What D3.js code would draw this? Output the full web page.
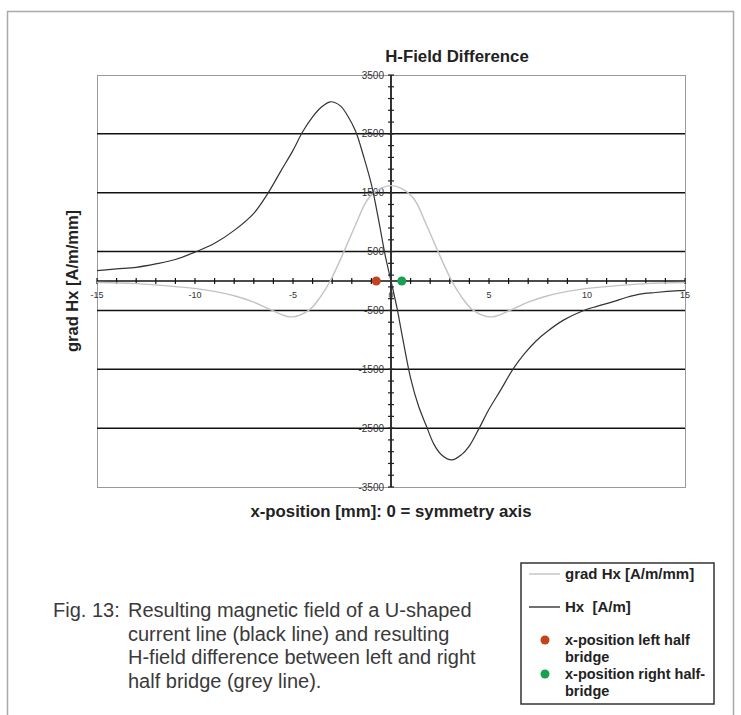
<!DOCTYPE html>
<html>
<head>
<meta charset="utf-8">
<script src="https://cdn.jsdelivr.net/npm/d3@7"></script>
<style>
  body { margin: 0; background: #fff; }
  svg { display: block; font-family: "Liberation Sans", Arial, sans-serif; }
</style>
</head>
<body>
<svg id="chart" width="741" height="715"></svg>
<script>
// Tick labels and grid positions as printed on the chart
const xTickLabels = [-15, -10, -5, 0, 5, 10, 15];
const yTickLabels = [3500, 2500, 1500, 500, -500, -1500, -2500, -3500];
const gridValues = [2500, 1500, 500, -500, -1500, -2500];

// Hx [A/m] (black line)
const hxX = [-15, -14, -13, -12, -11, -10, -9, -8, -7, -6.3, -5.6, -5, -4.5, -4, -3.6, -3.1, -2.6, -2.2, -1.8, -1.4, -1, -0.6, -0.3, 0,
  0.3, 0.6, 1, 1.4, 1.8, 2.2, 2.6, 3.1, 3.6, 4, 4.5, 5, 5.6, 6.2, 6.8, 7.4, 8, 8.8, 9.8, 10.5, 11.3, 12, 12.7, 13.5, 14.7, 15];
const hxValues = [175, 205, 232, 290, 365, 490, 640, 860, 1150, 1480, 1880, 2220, 2540, 2790, 2940, 3045, 2980, 2800, 2540, 2120, 1640, 980, 440, 0,
  -450, -980, -1650, -2120, -2460, -2780, -2960, -3040, -2950, -2800, -2500, -2180, -1850, -1510, -1240, -1020, -850, -665, -505, -430, -355, -280, -222, -195, -165, -160];

// grad Hx [A/m/mm] (grey line)
const gradX = [-15, -13, -11, -9.5, -8, -7, -6, -5.1, -4.2, -3.6, -3.1, -2.4, -1.8, -1.2, -0.6, 0,
  0.6, 1.2, 1.8, 2.4, 3.1, 3.6, 4.2, 5.1, 6, 7, 8, 9.5, 11, 13, 15];
const gradValues = [-25, -45, -95, -150, -250, -360, -510, -610, -500, -270, 0, 500, 960, 1380, 1560, 1620,
  1560, 1380, 960, 500, 0, -270, -500, -610, -510, -360, -250, -150, -95, -45, -25];

// half bridge positions
const markerNames = [['x-position left half', 'bridge'], ['x-position right half-', 'bridge']];
const markerX = [-0.75, 0.55];
const markerColors = ['#c4431f', '#17a24f'];

const svg = d3.select('#chart');

// outer frame of the figure
svg.append('rect')
  .attr('x', 7.5).attr('y', 11.5)
  .attr('width', 726).attr('height', 720)
  .attr('fill', 'none')
  .attr('stroke', '#a9a9a9')
  .attr('stroke-width', 1.5);

const plot = { left: 97, right: 685, top: 75, bottom: 487 };

const x = d3.scaleLinear().domain([-15, 15]).range([plot.left, plot.right]);
const y = d3.scaleLinear().domain([-3500, 3500]).range([plot.bottom, plot.top]);

// plot area border
svg.append('rect')
  .attr('x', plot.left + 0.5).attr('y', plot.top + 0.5)
  .attr('width', plot.right - plot.left).attr('height', plot.bottom - plot.top)
  .attr('fill', 'none')
  .attr('stroke', '#9a9a9a')
  .attr('stroke-width', 1);

// horizontal gridlines
svg.append('g')
  .selectAll('line')
  .data(gridValues)
  .join('line')
  .attr('x1', plot.left).attr('x2', plot.right)
  .attr('y1', d => y(d)).attr('y2', d => y(d))
  .attr('stroke', '#111')
  .attr('stroke-width', 1.5);

// x axis at value 0, minor ticks every 1 mm
const xAxis = svg.append('g');
xAxis.append('line')
  .attr('x1', x(-15)).attr('x2', x(15))
  .attr('y1', y(0)).attr('y2', y(0))
  .attr('stroke', '#111').attr('stroke-width', 1.5);
xAxis.selectAll('line.tick')
  .data(d3.range(-15, 16))
  .join('line')
  .attr('class', 'tick')
  .attr('x1', d => x(d)).attr('x2', d => x(d))
  .attr('y1', y(0) - 3).attr('y2', y(0) + 3)
  .attr('stroke', '#111').attr('stroke-width', 1.2);
xAxis.selectAll('text')
  .data(xTickLabels)
  .join('text')
  .attr('x', d => x(d))
  .attr('y', y(0) + 17)
  .attr('text-anchor', 'middle')
  .attr('font-size', 9)
  .attr('fill', '#333')
  .text(d => d);

// y axis at value 0, minor ticks every 200
const yAxis = svg.append('g');
yAxis.append('line')
  .attr('x1', x(0)).attr('x2', x(0))
  .attr('y1', y(-3500)).attr('y2', y(3500))
  .attr('stroke', '#333').attr('stroke-width', 2);
yAxis.selectAll('line.tick')
  .data(d3.range(-3500, 3501, 200))
  .join('line')
  .attr('class', 'tick')
  .attr('x1', x(0) - 3).attr('x2', x(0) + 3)
  .attr('y1', d => y(d)).attr('y2', d => y(d))
  .attr('stroke', '#222').attr('stroke-width', 1.2);
yAxis.selectAll('text')
  .data(yTickLabels)
  .join('text')
  .attr('x', x(0) - 7)
  .attr('y', d => y(d))
  .attr('dy', '0.35em')
  .attr('text-anchor', 'end')
  .attr('font-size', 10)
  .attr('fill', '#333')
  .text(d => d);

// curves
const line = d3.line()
  .x(d => x(d[0]))
  .y(d => y(d[1]))
  .curve(d3.curveCatmullRom.alpha(0.5));

svg.append('path')
  .datum(d3.zip(gradX, gradValues))
  .attr('d', line)
  .attr('fill', 'none')
  .attr('stroke', '#c3c3c3')
  .attr('stroke-width', 1.4);

svg.append('path')
  .datum(d3.zip(hxX, hxValues))
  .attr('d', line)
  .attr('fill', 'none')
  .attr('stroke', '#333')
  .attr('stroke-width', 1.2);

// half bridge markers
svg.append('g')
  .selectAll('circle')
  .data(markerX)
  .join('circle')
  .attr('cx', d => x(d))
  .attr('cy', y(0))
  .attr('r', 4.5)
  .attr('fill', (d, i) => markerColors[i]);

// titles
svg.append('text')
  .attr('x', 457).attr('y', 62)
  .attr('text-anchor', 'middle')
  .attr('font-size', 16.8).attr('font-weight', 'bold')
  .attr('fill', '#222')
  .text('H-Field Difference');

svg.append('text')
  .attr('x', x(0)).attr('y', 517)
  .attr('text-anchor', 'middle')
  .attr('font-size', 16.8).attr('font-weight', 'bold')
  .attr('fill', '#222')
  .text('x-position [mm]: 0 = symmetry axis');

svg.append('text')
  .attr('transform', `translate(78, ${y(0)}) rotate(-90)`)
  .attr('text-anchor', 'middle')
  .attr('font-size', 16.5).attr('font-weight', 'bold')
  .attr('fill', '#222')
  .text('grad Hx [A/m/mm]');

// legend
const legend = svg.append('g');
legend.append('rect')
  .attr('x', 521).attr('y', 563)
  .attr('width', 193).attr('height', 141)
  .attr('fill', '#fff')
  .attr('stroke', '#333')
  .attr('stroke-width', 1.5);

const legendLines = [
  { label: 'grad Hx [A/m/mm]', color: '#c3c3c3', y: 574 },
  { label: 'Hx  [A/m]', color: '#333', y: 607 }
];
legendLines.forEach(d => {
  legend.append('line')
    .attr('x1', 529).attr('x2', 560)
    .attr('y1', d.y).attr('y2', d.y)
    .attr('stroke', d.color).attr('stroke-width', 1.4);
  legend.append('text')
    .attr('x', 565).attr('y', d.y)
    .attr('dy', '0.35em')
    .attr('font-size', 15).attr('font-weight', 'bold')
    .attr('fill', '#222')
    .attr('xml:space', 'preserve')
    .text(d.label);
});

const legendDotY = [640, 674];
markerNames.forEach((name, i) => {
  legend.append('circle')
    .attr('cx', 545).attr('cy', legendDotY[i])
    .attr('r', 4.5)
    .attr('fill', markerColors[i]);
  name.forEach((part, j) => {
    legend.append('text')
      .attr('x', 565).attr('y', legendDotY[i] + j * 16.5)
      .attr('dy', '0.35em')
      .attr('font-size', 14.5).attr('font-weight', 'bold')
      .attr('fill', '#222')
      .text(part);
  });
});

// figure caption
const captionLines = [
  'Resulting magnetic field of a U-shaped',
  'current line (black line) and resulting',
  'H-field difference between left and right',
  'half bridge (grey line).'
];
const caption = svg.append('g')
  .attr('font-size', 20)
  .attr('fill', '#3a3a3a');
caption.append('text')
  .attr('x', 53).attr('y', 617)
  .text('Fig. 13:');
caption.selectAll('text.line')
  .data(captionLines)
  .join('text')
  .attr('class', 'line')
  .attr('x', 128)
  .attr('y', (d, i) => 617 + i * 23.5)
  .text(d => d);
</script>
</body>
</html>
